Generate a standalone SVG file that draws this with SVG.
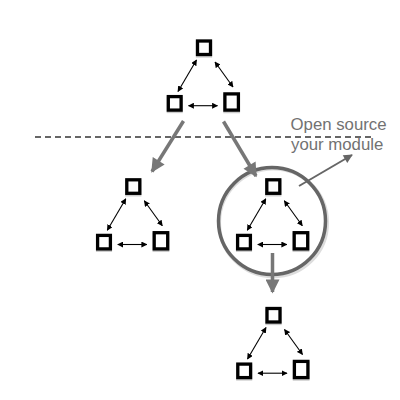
<svg xmlns="http://www.w3.org/2000/svg" width="400" height="400" viewBox="0 0 400 400">
  <defs>
    <marker id="sm" viewBox="0 0 10 10" refX="9" refY="5" markerWidth="6" markerHeight="6" markerUnits="userSpaceOnUse" orient="auto-start-reverse">
      <path d="M0,0 L10,5 L0,10 Z" fill="#000"/>
    </marker>
    <marker id="big" viewBox="0 0 10 10" refX="9" refY="5" markerWidth="15" markerHeight="14" markerUnits="userSpaceOnUse" orient="auto">
      <path d="M0,0 L10,5 L0,10 Z" fill="#777"/>
    </marker>
    <marker id="mid" viewBox="0 0 10 10" refX="9" refY="5" markerWidth="11" markerHeight="9" markerUnits="userSpaceOnUse" orient="auto">
      <path d="M0,0 L10,5 L0,10 Z" fill="#666"/>
    </marker>
    <g id="cluster">
      <rect class="sh" x="197.5" y="42.5" width="13" height="13.5"/>
      <rect class="sh" x="168.3" y="98" width="12.8" height="13.5"/>
      <rect class="sh" x="224.9" y="95.4" width="13.5" height="16.2"/>
      <rect class="sq" x="197.5" y="41" width="13" height="13.5"/>
      <rect class="sq" x="168.3" y="96.6" width="12.8" height="13.5"/>
      <rect class="sq" x="224.9" y="93.9" width="13.5" height="16.2"/>
      <line class="dbl" x1="196.5" y1="60" x2="178" y2="91.5"/>
      <line class="dbl" x1="215" y1="62" x2="233" y2="87"/>
      <line class="dbl" x1="188.5" y1="105.7" x2="217.5" y2="105.7"/>
    </g>
  </defs>
  <style>
    .sq { fill: #fff; stroke: #000; stroke-width: 3.3; }
    .sh { fill: none; stroke: #ccc; stroke-width: 3.3; }
    .dbl { stroke: #000; stroke-width: 1.1; marker-start: url(#sm); marker-end: url(#sm); }
    .thick { stroke: #777; stroke-width: 3.5; fill: none; marker-end: url(#big); }
    .lbl { font-family: "Liberation Sans", Arial, sans-serif; font-size: 16.8px; fill: #727272; }
  </style>

  <line id="boundary" x1="35" y1="137" x2="372" y2="137" stroke="#666" stroke-width="2" stroke-dasharray="6 4"/>

  <g id="n1"><use href="#cluster"/></g>
  <g id="n2"><use href="#cluster" transform="translate(-70.7,138.8)"/></g>
  <g id="n3">
    <circle cx="272.5" cy="221.5" r="54" fill="none" stroke="#ddd" stroke-width="3.5" transform="translate(0.8,1.2)"/>
    <circle cx="272" cy="221" r="53.5" fill="none" stroke="#666" stroke-width="3.5"/>
    <use href="#cluster" transform="translate(69.3,138.8)"/>
  </g>
  <g id="n4"><use href="#cluster" transform="translate(69.5,267.5)"/></g>

  <g id="connectors">
    <line class="thick" x1="183.5" y1="121" x2="152" y2="171.5"/>
    <line class="thick" x1="223.5" y1="121.5" x2="256" y2="176"/>
    <line class="thick" x1="272.5" y1="253" x2="272.5" y2="292"/>
    <line x1="299" y1="186" x2="352" y2="155" stroke="#666" stroke-width="2" marker-end="url(#mid)"/>
  </g>

  <g id="label">
    <text class="lbl" x="290.5" y="129.5">Open source</text>
    <text class="lbl" x="291" y="149.5">your module</text>
  </g>
</svg>
